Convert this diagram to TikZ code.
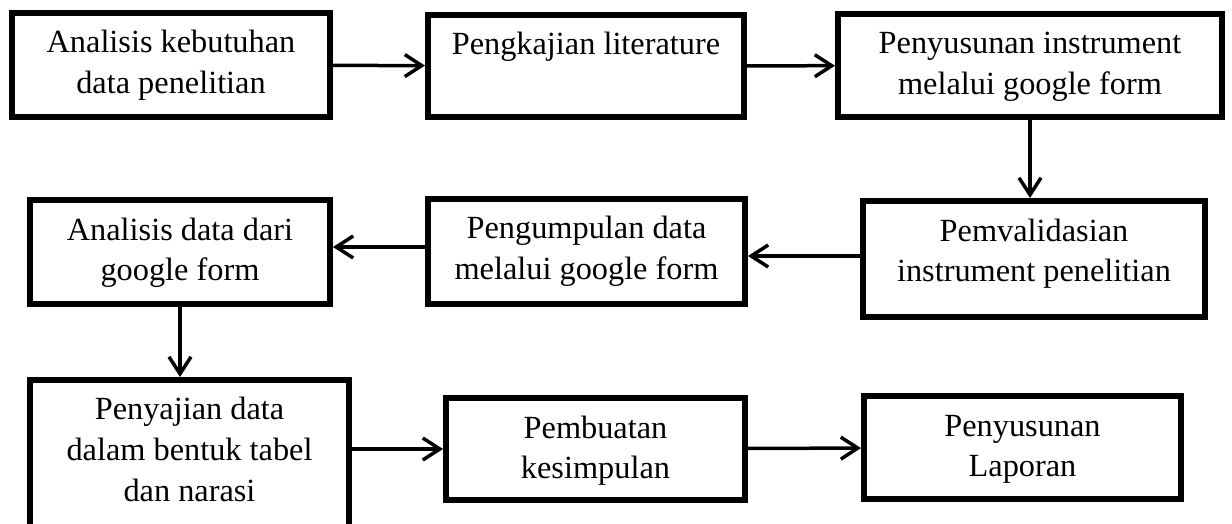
\documentclass[tikz,border=0pt]{standalone}
\usepackage{fontspec}
\setmainfont{Liberation Serif}
\usepackage{tikz}
\usetikzlibrary{arrows.meta, positioning, calc}
\newcommand{\stepfont}{\fontsize{18.4pt}{23.3pt}\selectfont}
\tikzset{
    stepbox/.style 2 args={rectangle, draw, line width=0.12cm, minimum width=#1*0.02cm, minimum height=#2*0.02cm, inner sep=0pt, text width=(#1-20)*0.02cm, align=flush center, text height=0.42cm, text depth=(#2-59)*0.02cm, font=\stepfont},
    arrow/.style={line width=0.07cm, -{Straight Barb[length=0.34cm, width=0.44cm]}}
}
\begin{document}
\begin{tikzpicture}[x=0.02cm, y=-0.02cm]
    \useasboundingbox (0,0) rectangle (1232,524);
    \node (kebutuhan) [stepbox={318}{104}] at (171,65) {Analisis kebutuhan\\data penelitian};
    \node (literatur) [stepbox={316}{102}] at (586,66) {Pengkajian literature};
    \node (instrumen) [stepbox={384}{103}] at (1030,65.5) {Penyusunan instrument\\melalui google form};
    \node (validasi) [stepbox={342}{116}] at (1034,259) {Pemvalidasian\\instrument penelitian};
    \node (pengumpulan) [stepbox={317}{105}] at (586.5,251.5) {Pengumpulan data\\melalui google form};
    \node (analisis) [stepbox={300}{104}] at (180,252) {Analisis data dari\\google form};
    \node (penyajian) [stepbox={319}{147}] at (189.5,453.5) {Penyajian data\\dalam bentuk tabel\\dan narasi};
    \node (kesimpulan) [stepbox={299}{102}] at (595.5,449) {Pembuatan\\kesimpulan};
    \node (laporan) [stepbox={317}{103}] at (1022.5,447.5) {Penyusunan\\Laporan};

    \draw [arrow] (kebutuhan) -- (literatur);
    \draw [arrow] (literatur) -- (instrumen);
    \draw [arrow] (instrumen) -- (instrumen |- validasi.north);
    \draw [arrow] ([yshift=0.06cm]validasi.west) -- ([yshift=0.06cm]validasi.west -| pengumpulan.east);
    \draw [arrow] ([yshift=0.09cm]pengumpulan.west) -- ([yshift=0.09cm]pengumpulan.west -| analisis.east);
    \draw [arrow] (analisis) -- (analisis |- penyajian.north);
    \draw [arrow] (penyajian.east |- kesimpulan.west) -- (kesimpulan.west);
    \draw [arrow] (kesimpulan) -- (laporan);
\end{tikzpicture}
\end{document}
